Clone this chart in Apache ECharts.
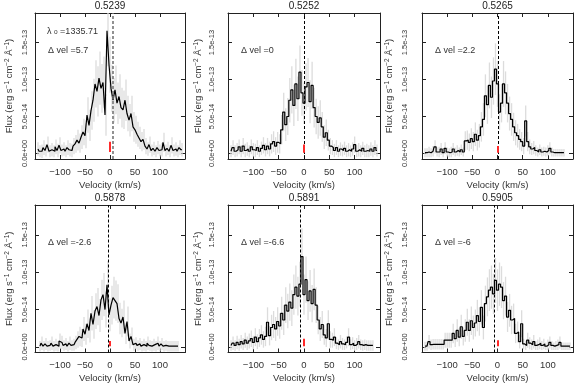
<!DOCTYPE html>
<html lang="en">
<head>
<meta charset="UTF-8">
<title>Line profiles</title>
<script src="https://cdn.jsdelivr.net/npm/echarts@6/dist/echarts.min.js"></script>
<style>
  html, body { margin: 0; padding: 0; background: #fff; }
  #main { width: 581px; height: 388px; }
</style>
</head>
<body>
<div id="main"></div>
<script type="text/javascript">
// velocity grid (km/s), flux in units of 1e-14 erg/s/cm2/A
var vel = [-144,-140,-136,-132,-128,-124,-120,-116,-112,-108,
           -104,-100,-96,-92,-88,-84,-80,-76,-72,-68,
           -64,-60,-56,-52,-48,-44,-40,-36,-32,-28,
           -24,-20,-16,-12,-8,-4,0,4,8,12,
           16,20,24,28,32,36,40,44,48,52,
           56,60,64,68,72,76,80,84,88,92,
           96,100,104,108,112,116,120,124,128,132,
           136,140,144];

var flux1 = [0.6,0.3,0.3,0.8,0.4,1.2,0.3,0.5,0.3,0.9,
             0.4,1.1,0.4,0.6,0.3,0.8,0.5,0.4,1.0,1.3,
             1.8,1.4,2.2,2.9,2.4,5.2,3.8,5.8,7.2,9.4,
             8.4,10.2,8.8,9.6,5.2,16.6,12.0,8.8,7.2,8.6,
             6.8,7.7,6.2,5.9,7.2,5.4,4.5,5.4,3.6,3.2,
             2.6,2.1,1.6,1.9,1.0,0.6,1.2,0.4,0.7,0.3,
             0.8,0.4,0.5,1.5,0.4,0.7,0.3,1.1,0.4,0.6,
             0.3,0.8,0.5];
var flux2 = [0.3,0.8,0.3,0.5,0.9,0.3,1.0,0.4,0.6,0.3,
             0.9,0.5,0.4,0.8,0.3,0.7,1.1,0.5,1.0,0.6,
             1.3,1.6,1.0,1.5,1.3,3.2,5.6,3.9,5.0,7.2,
             8.6,6.5,9.4,7.4,11.0,8.2,6.8,9.0,9.6,7.0,
             9.2,6.2,5.0,4.2,4.8,3.6,2.2,2.8,1.8,1.0,
             0.8,0.4,0.8,0.3,0.6,0.4,0.7,0.3,0.5,0.3,
             0.6,1.2,0.3,0.5,0.3,0.7,0.3,0.4,0.3,0.6,
             0.3,0.8,0.4];
var flux3 = [0.1,0.1,0.2,0.1,0.3,0.9,0.2,0.2,0.6,0.1,
             0.7,0.2,0.1,0.2,0.6,0.2,0.4,0.2,0.5,0.2,
             1.7,1.8,1.5,2.0,1.6,2.6,1.8,2.4,3.6,4.6,
             7.8,6.6,9.2,7.6,9.8,11.4,9.4,5.6,6.8,9.4,
             8.2,6.8,5.4,4.6,3.6,2.8,2.4,1.9,1.6,1.0,
             4.4,1.6,0.9,0.6,0.8,0.4,0.2,0.5,0.2,0.3,
             0.2,0.4,0.7,0.2,0.1,0.1,0.1,0.1,0.1,0.1,
             null,null,null];
var flux4 = [null,0.1,0.5,0.1,0.4,0.1,0.2,0.5,0.1,0.3,
             0.1,0.8,0.6,0.2,0.4,0.1,0.5,0.2,0.3,0.6,
             1.0,1.4,1.2,2.4,1.7,3.1,2.2,4.5,3.0,4.8,
             5.4,4.2,6.3,7.0,5.0,8.3,4.3,5.6,6.6,6.2,
             5.8,3.8,3.2,4.0,1.8,3.4,0.8,1.4,0.3,0.5,
             0.2,0.4,0.1,0.3,0.1,0.5,0.2,0.1,0.3,0.1,
             0.5,0.1,0.4,0.1,0.2,0.1,0.1,0.1,0.1,0.1,
             0.1,null,null];
var flux5 = [0.2,0.5,0.2,0.6,0.3,0.7,0.4,0.9,0.5,0.8,
             1.1,0.6,1.3,0.7,1.2,1.6,1.0,1.4,3.3,1.5,
             2.6,3.0,2.4,3.4,2.8,4.5,3.6,5.6,4.8,6.0,
             5.2,7.0,8.0,6.8,8.4,12.1,7.0,9.0,6.2,7.5,
             5.8,7.7,5.6,3.6,2.4,3.0,1.6,1.2,3.1,1.0,
             0.9,1.3,0.5,0.3,0.7,0.4,0.3,0.6,1.3,0.3,
             0.5,0.2,0.4,0.7,0.3,0.2,0.3,0.2,0.2,0.2,
             0.2,null,null];
var flux6 = [0.1,0.1,0.7,0.3,0.35,0.35,0.35,0.35,0.35,0.35,
             0.9,0.9,0.9,0.9,1.8,1.1,2.2,1.3,2.7,1.4,
             2.2,3.3,2.2,3.5,2.6,3.2,4.2,3.4,5.3,2.6,
             5.8,6.7,7.6,8.0,7.1,8.9,7.6,8.4,8.0,6.2,
             6.8,4.0,4.9,3.6,3.8,1.8,2.0,0.7,3.1,0.4,
             0.2,0.9,0.5,0.3,0.7,0.2,0.3,0.5,0.2,0.4,
             0.1,0.3,0.6,0.2,0.1,0.2,0.3,0.6,0.1,0.1,
             0.1,0.1,0.1];

// 1-sigma errors, same units
var err1 = [0.9,0.8,0.9,1.0,0.8,1.1,0.8,0.9,0.8,1.0,
            0.9,1.1,0.8,0.9,0.8,1.0,0.9,0.9,1.1,1.2,
            1.4,1.3,1.6,1.8,1.7,2.4,2.1,2.6,2.9,3.2,
            3.4,3.6,3.3,3.5,2.8,4.8,3.8,3.2,3.0,3.3,
            2.8,3.0,2.7,2.6,2.8,2.4,2.2,2.4,2.0,1.9,
            1.7,1.5,1.3,1.4,1.1,0.9,1.1,0.8,0.9,0.8,
            0.9,0.8,0.9,1.3,0.8,0.9,0.8,1.1,0.8,0.9,
            0.8,1.0,0.9];
var err2 = [0.8,1.0,0.8,0.9,1.0,0.8,1.1,0.9,0.9,0.8,
            1.0,0.9,0.9,1.0,0.8,0.9,1.1,0.9,1.1,1.0,
            1.3,1.4,1.2,1.4,1.3,2.0,2.6,2.2,2.5,3.0,
            3.2,2.8,3.4,3.0,3.6,3.1,2.8,3.2,3.3,2.9,
            3.2,2.7,2.4,2.2,2.4,2.0,1.6,1.8,1.4,1.1,
            1.0,0.9,1.0,0.8,0.9,0.8,0.9,0.8,0.9,0.8,
            0.9,1.1,0.8,0.9,0.8,0.9,0.8,0.9,0.8,0.9,
            0.8,1.0,0.8];
var err3 = [0.6,0.6,0.7,0.6,0.7,0.9,0.6,0.7,0.8,0.6,
            0.8,0.6,0.6,0.7,0.8,0.6,0.7,0.6,0.7,0.6,
            1.3,1.3,1.2,1.4,1.3,1.6,1.4,1.6,2.0,2.2,
            2.9,2.6,3.1,2.8,3.2,3.5,3.1,2.4,2.6,3.1,
            2.9,2.6,2.3,2.2,1.9,1.7,1.6,1.4,1.3,1.1,
            2.1,1.3,1.0,0.8,0.9,0.7,0.6,0.7,0.6,0.6,
            0.6,0.7,0.8,0.6,0.5,0.5,0.5,0.5,0.5,0.5,
            0.5,0.5,0.5];
var err4 = [0.7,0.7,0.9,0.7,0.8,0.7,0.7,0.9,0.7,0.8,
            0.7,1.0,0.9,0.7,0.8,0.7,0.9,0.7,0.8,0.9,
            1.1,1.3,1.2,1.6,1.4,1.9,1.6,2.3,1.9,2.4,
            2.5,2.2,2.7,2.9,2.4,3.2,2.2,2.6,2.8,2.7,
            2.6,2.1,1.9,2.2,1.4,2.0,1.0,1.2,0.8,0.8,
            0.7,0.8,0.7,0.8,0.7,0.9,0.7,0.7,0.8,0.7,
            0.9,0.7,0.8,0.7,0.7,0.7,0.7,0.7,0.7,0.7,
            0.7,0.7,0.7];
var err5 = [0.7,0.9,0.7,0.9,0.8,0.9,0.8,1.0,0.9,1.0,
            1.1,0.9,1.2,1.0,1.2,1.3,1.1,1.3,2.0,1.3,
            1.7,1.8,1.6,1.9,1.7,2.2,2.0,2.4,2.3,2.5,
            2.4,2.7,2.9,2.6,3.0,3.8,2.7,3.1,2.6,2.8,
            2.5,2.8,2.4,1.9,1.6,1.8,1.3,1.2,1.8,1.1,
            1.0,1.2,0.8,0.7,0.9,0.8,0.7,0.8,1.2,0.7,
            0.8,0.7,0.8,0.9,0.7,0.7,0.7,0.7,0.7,0.7,
            0.7,0.7,0.7];
var err6 = [0.6,0.6,0.9,0.7,0.7,0.7,0.7,0.7,0.7,0.7,
            1.0,1.0,1.0,1.0,1.3,1.1,1.5,1.2,1.6,1.2,
            1.5,1.8,1.5,1.9,1.6,1.8,2.1,1.9,2.3,1.6,
            2.4,2.6,2.8,2.9,2.7,3.0,2.8,2.9,2.8,2.5,
            2.6,2.0,2.2,1.9,2.0,1.3,1.4,0.9,1.8,0.7,
            0.6,1.0,0.8,0.7,0.9,0.6,0.7,0.8,0.6,0.7,
            0.5,0.7,0.8,0.6,0.5,0.6,0.7,0.8,0.5,0.5,
            0.5,0.5,0.5];

var panelTitles = ['0.5239', '0.5252', '0.5265', '0.5878', '0.5891', '0.5905'];
var deltaVel = [5.7, 0, 2.2, -2.6, -6.6, -6];
var deltaVelText = ['5.7', '0', '2.2', '-2.6', '-6.6', '-6'];
var restLambda = '1335.71';
var redMarkTop = [1.6, 1.2, 1.0, 0.8, 1.1, 0.9];
var redMarkBottom = [0.2, 0.1, 0.1, 0.1, 0.1, 0.1];

var xTickVals = [-100, -50, 0, 50, 100];
var xTickText = ['\u2212100', '\u221250', '0', '50', '100'];
var yTickVals = [0, 5, 10, 15];
var yTickText = ['0.0e+00', '5.0e-14', '1.0e-13', '1.5e-13'];

var fluxes = [flux1, flux2, flux3, flux4, flux5, flux6];
var errors = [err1, err2, err3, err4, err5, err6];

// layout
var X_MIN = -150, X_MAX = 150, Y_MIN = -0.75, Y_MAX = 19;
var colLeft = [35, 228, 422], colWidth = [150, 152, 151];
var rowTop = [13, 205], rowHeight = [146, 147.5];
var yLabelMargin = [6, 12.5, 13.5];
var yNameGap = [21, 25, 28];
var FONT = "'Liberation Sans', Arial, sans-serif";
var TXT = '#333';

var myChart = echarts.init(document.getElementById('main'));

function boxLine() {
    return {show: true, onZero: false, lineStyle: {color: '#222', width: 1}};
}
function ticks(vals) {
    return {show: true, inside: true, length: 4, customValues: vals.slice(), lineStyle: {color: '#222'}};
}
function lookup(vals, texts) {
    return function (v) {
        for (var k = 0; k < vals.length; k++) {
            if (Math.abs(v - vals[k]) < 1e-6) return texts[k];
        }
        return '';
    };
}

function buildOption() {
    var grids = [], xAxes = [], yAxes = [], series = [], graphics = [];

    for (var p = 0; p < 6; p++) {
        var row = Math.floor(p / 3), col = p % 3;
        var gLeft = colLeft[col], gTop = rowTop[row];
        grids.push({left: gLeft, top: gTop, width: colWidth[col], height: rowHeight[row]});

        xAxes.push({
            type: 'value', gridIndex: p, min: X_MIN, max: X_MAX, position: 'bottom',
            axisLine: boxLine(), splitLine: {show: false}, axisTick: ticks(xTickVals),
            axisLabel: {customValues: xTickVals.slice(), formatter: lookup(xTickVals, xTickText),
                        color: TXT, fontSize: 9.5, margin: 8, fontFamily: FONT},
            name: 'Velocity (km/s)', nameLocation: 'middle', nameGap: 21,
            nameTextStyle: {color: TXT, fontSize: 9.5, fontFamily: FONT}
        });
        xAxes.push({
            type: 'value', gridIndex: p, min: X_MIN, max: X_MAX, position: 'top',
            axisLine: boxLine(), splitLine: {show: false}, axisTick: ticks(xTickVals),
            axisLabel: {show: false}
        });
        yAxes.push({
            type: 'value', gridIndex: p, min: Y_MIN, max: Y_MAX, position: 'left',
            axisLine: boxLine(), splitLine: {show: false}, axisTick: ticks(yTickVals),
            axisLabel: {customValues: yTickVals.slice(), formatter: lookup(yTickVals, yTickText),
                        rotate: 90, color: TXT, fontSize: 7.5, margin: yLabelMargin[col],
                        fontFamily: "'Liberation Sans Narrow', " + FONT},
            name: 'Flux (erg s{sup|\u22121} cm{sup|\u22122} \u00c5{sup|\u22121})',
            nameLocation: 'middle', nameGap: yNameGap[col],
            nameTextStyle: {color: TXT, fontSize: 9.5, fontFamily: FONT,
                            rich: {sup: {fontSize: 6.5, verticalAlign: 'top', color: TXT}}}
        });
        yAxes.push({
            type: 'value', gridIndex: p, min: Y_MIN, max: Y_MAX, position: 'right',
            axisLine: boxLine(), splitLine: {show: false}, axisTick: ticks(yTickVals),
            axisLabel: {show: false}
        });

        var errData = [], lineData = [];
        for (var i = 0; i < vel.length; i++) {
            var f = fluxes[p][i];
            if (f === null) continue;
            var e = errors[p][i];
            errData.push([vel[i], Math.max(f - e, Y_MIN), Math.min(f + e, Y_MAX)]);
            lineData.push([vel[i], f]);
        }

        // error bars
        series.push({
            type: 'custom', xAxisIndex: 2 * p, yAxisIndex: 2 * p, silent: true, z: 1,
            data: errData,
            renderItem: function (params, api) {
                var a = api.coord([api.value(0), api.value(1)]);
                var b = api.coord([api.value(0), api.value(2)]);
                return {
                    type: 'line',
                    shape: {x1: a[0], y1: a[1], x2: b[0], y2: b[1]},
                    style: {stroke: '#dcdcdc', lineWidth: 1.3}
                };
            }
        });

        // spectrum, dashed velocity shift, red rest marker
        series.push({
            type: 'line', xAxisIndex: 2 * p, yAxisIndex: 2 * p, step: 'middle', z: 3,
            data: lineData, showSymbol: false, symbol: 'none',
            lineStyle: {color: '#000', width: 1.2},
            markLine: {
                silent: true, symbol: ['none', 'none'], label: {show: false},
                data: [
                    {xAxis: deltaVel[p],
                     lineStyle: {type: [3, 2], color: p === 0 ? '#777' : '#000', width: p === 0 ? 1.6 : 1}},
                    [{coord: [0, redMarkBottom[p]], lineStyle: {type: 'solid', color: '#ff2a2a', width: 2}},
                     {coord: [0, redMarkTop[p]]}]
                ]
            }
        });

        graphics.push({
            type: 'text', x: gLeft + colWidth[col] / 2, y: gTop - 6.5,
            style: {text: panelTitles[p], fill: '#222', font: '10px ' + FONT,
                    align: 'center', verticalAlign: 'middle'}
        });
        graphics.push({
            type: 'text', x: gLeft + 13, y: gTop + 38,
            style: {text: '\u0394 vel =' + deltaVelText[p], fill: TXT, font: '9px ' + FONT,
                    align: 'left', verticalAlign: 'middle'}
        });
    }

    graphics.push({
        type: 'text', x: colLeft[0] + 12, y: rowTop[0] + 18.5,
        style: {text: '\u03bb {sub|o} =' + restLambda, fill: TXT, font: '9px ' + FONT,
                align: 'left', verticalAlign: 'middle',
                rich: {sub: {fontSize: 6.5, verticalAlign: 'bottom', fill: TXT}}}
    });

    return {
        animation: false,
        backgroundColor: '#fff',
        textStyle: {fontFamily: FONT},
        grid: grids, xAxis: xAxes, yAxis: yAxes, series: series, graphic: graphics
    };
}

myChart.setOption(buildOption());
</script>
</body>
</html>
